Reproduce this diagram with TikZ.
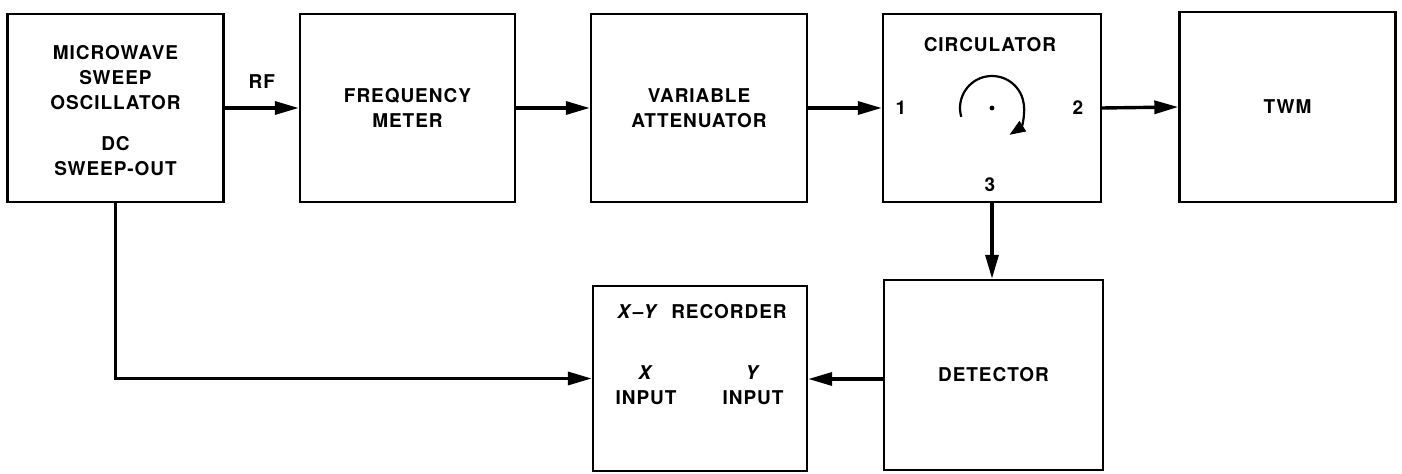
\documentclass[tikz,border=0pt]{standalone}
\usepackage{fontspec}
\setmainfont[LetterSpace=5]{TeX Gyre Heros}
\usetikzlibrary{arrows.meta}

\tikzset{
  blk/.style={draw, line width=1.2pt, minimum width=108pt, minimum height=94pt,
              inner sep=0pt, align=center, font=\lettering},
  lbl/.style={inner sep=0pt, align=center, font=\lettering},
  conn/.style={line width=1.7pt, -{Triangle[length=12pt,width=6.5pt]}},
}
\newcommand{\lettering}{\fontsize{9.5}{12.5}\selectfont\bfseries}

\begin{document}
\begin{tikzpicture}[x=0.5pt,y=-0.5pt]
  \useasboundingbox (0,0) rectangle (1402,474);

  % upper row of instruments
  \node[blk] (osc) at (115.5,108) {};
  \node[lbl] (osctext) at (115.5,110.5) {MICROWAVE\\SWEEP\\OSCILLATOR\\[8pt]DC\\SWEEP-OUT};
  \node[blk, minimum width=107.5pt] (fm) at (407.5,108) {FREQUENCY\\METER};
  \node[blk] (att) at (699,108) {VARIABLE\\ATTENUATOR};
  \node[blk, minimum width=109pt] (circ) at (992,108) {};
  \node[blk, minimum height=95pt] (twm) at (1287.5,107) {TWM};

  % lower row
  \node[blk, minimum width=109.5pt, minimum height=95pt] (det) at (993.5,375) {DETECTOR};
  \node[blk, minimum width=107pt, minimum height=92.5pt] (rec) at (700,378.5) {};

  % circulator interior
  \node[lbl] (ctitle) at (990,45) {CIRCULATOR};
  \node[lbl] (p1) at (901,108) {1};
  \node[lbl] (p2) at (1078,108) {2};
  \node[lbl] (p3) at (990,185) {3};
  \coordinate (cc) at (992,108);
  \fill (cc) circle (1.2pt);
  \draw[line width=1.1pt, -{Triangle[length=8pt,width=6pt]}]
    ([shift={(164:32)}]cc) arc[start angle=164, end angle=417, radius=32];

  % recorder interior
  \node[lbl] (rtitle) at (702,312) {\textit{X}--\textit{Y}\ \ RECORDER};
  \node[lbl] (xin) at (646,385) {\textit{X}\\INPUT};
  \node[lbl] (yin) at (753,385) {\textit{Y}\\INPUT};

  % signal paths
  \draw[conn] (osc.east) -- (fm.west) node[lbl, pos=0.5, above=9pt] (rf) {RF};
  \draw[conn] (fm.east) -- (att.west);
  \draw[conn] (att.east) -- (circ.west);
  \draw[conn] (circ.east) -- (twm.west);
  \draw[conn] (circ.south) -- (circ.south |- det.north);
  \draw[conn] ([yshift=-2pt]det.west) -- ([yshift=-2pt]det.west -| rec.east);
  \draw[conn] (osc.south) |- (rec.west);
\end{tikzpicture}
\end{document}
